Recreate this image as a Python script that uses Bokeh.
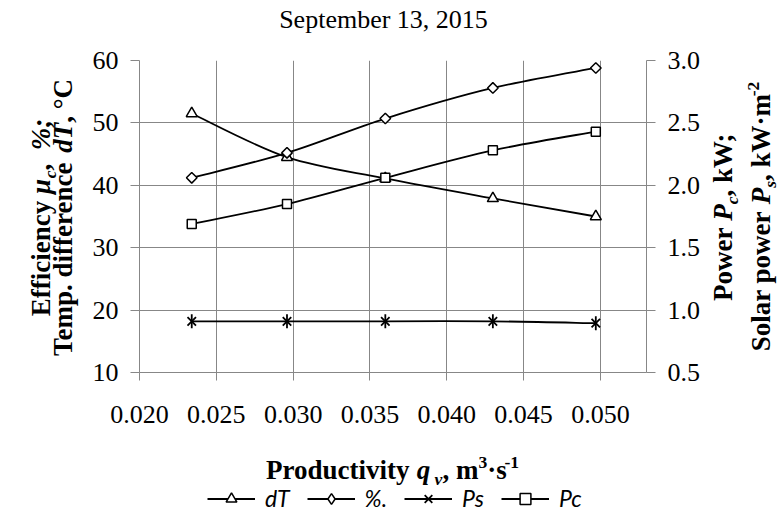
import numpy as np
from bokeh.plotting import figure
from bokeh.layouts import column, row
from bokeh.models import (Range1d, LinearAxis, FixedTicker, PrintfTickFormatter,
                          Legend, LegendItem, ColumnDataSource)
from bokeh.core.properties import value
from bokeh.embed import file_html
from bokeh.resources import INLINE

# ---------------- data ----------------
q_v = [0.0234, 0.0296, 0.0360, 0.0430, 0.0497]      # productivity, m3/s
d_T = [51.5, 44.5, 41.1, 37.9, 35.0]                # temp. difference, degC (left)
eff = [41.2, 45.2, 50.7, 55.6, 58.8]                # efficiency, % (left)
p_s = [0.91, 0.91, 0.91, 0.91, 0.895]               # solar power, kW/m2 (right)
p_c = [1.69, 1.85, 2.06, 2.28, 2.43]                # power, kW (right)

x_ticks = [0.020, 0.025, 0.030, 0.035, 0.040, 0.045, 0.050]
left_ticks = [10, 20, 30, 40, 50, 60]
right_ticks = [0.5, 1.0, 1.5, 2.0, 2.5, 3.0]
title_text = "September 13, 2015"
series_labels = ["dT", "%.", "Ps", "Pc"]

# ---------------- page layout (pixels) ----------------
W, H = 784, 513
FL, FR, FT, FB = 139, 646, 60, 372          # plot frame
TOP_H, LEFT_W, RIGHT_X, BOT_Y = 45, 88, 706, 440
X0, X1 = 0.020, 0.053
Y0, Y1 = 10, 60
R0, R1 = 0.5, 3.0
GRAY = "#878787"
SERIF = "Liberation Serif"
LW = 1.8
MW = 1.5
BASE_FIX = 0.36       # em offset that puts Bokeh's text baseline where intended

p = figure(width=RIGHT_X - LEFT_W, height=BOT_Y - TOP_H,
           x_range=Range1d(X0, X1), y_range=Range1d(Y0, Y1),
           output_backend="svg", toolbar_location=None, title=None,
           min_border_left=FL - LEFT_W, min_border_right=RIGHT_X - FR,
           min_border_top=FT - TOP_H, min_border_bottom=BOT_Y - FB,
           frame_align=False)
p.extra_y_ranges = {"right": Range1d(R0, R1)}
p.outline_line_color = None
p.background_fill_color = "white"
p.border_fill_color = "white"


def style_axis(ax, tick_out, standoff):
    ax.axis_line_color = GRAY
    ax.major_tick_line_color = GRAY
    ax.major_tick_out = tick_out
    ax.major_tick_in = 0
    ax.minor_tick_line_color = None
    ax.major_label_text_font = SERIF
    ax.major_label_text_font_size = "26px"
    ax.major_label_text_color = "black"
    ax.major_label_standoff = standoff
    ax.axis_label = None


xa = p.xaxis[0]
xa.ticker = FixedTicker(ticks=x_ticks)
xa.formatter = PrintfTickFormatter(format="%.3f")
style_axis(xa, 8, 25)

ya = p.yaxis[0]
ya.ticker = FixedTicker(ticks=left_ticks)
ya.formatter = PrintfTickFormatter(format="%d")
style_axis(ya, 9, 12)

ra = LinearAxis(y_range_name="right", ticker=FixedTicker(ticks=right_ticks),
                formatter=PrintfTickFormatter(format="%.1f"))
style_axis(ra, 9, 12)
p.add_layout(ra, "right")

p.xgrid.ticker = FixedTicker(ticks=x_ticks)
p.ygrid.ticker = FixedTicker(ticks=left_ticks)
for g in (p.xgrid[0], p.ygrid[0]):
    g.grid_line_color = GRAY
    g.grid_line_width = 1


# ---------------- smoothed lines (Bezier through the data points) ----------------
def smooth_source(xs, ys):
    xs = np.asarray(xs, float)
    ys = np.asarray(ys, float)
    n = len(xs)
    px = np.concatenate([[xs[0]], xs, [xs[-1]]])
    py = np.concatenate([[ys[0]], ys, [ys[-1]]])
    return ColumnDataSource(dict(
        x0=xs[:-1], y0=ys[:-1], x1=xs[1:], y1=ys[1:],
        cx0=px[1:n] + (px[2:n + 1] - px[0:n - 1]) / 6,
        cy0=py[1:n] + (py[2:n + 1] - py[0:n - 1]) / 6,
        cx1=px[2:n + 1] - (px[3:n + 2] - px[1:n]) / 6,
        cy1=py[2:n + 1] - (py[3:n + 2] - py[1:n]) / 6,
    ))


MARK = {
    "dT": [dict(marker="triangle", size=11, fill_color="white")],
    "%.": [dict(marker="square", angle=np.pi / 4, size=7.5, fill_color="white")],
    "Ps": [dict(marker="x", size=12), dict(marker="dash", angle=np.pi / 2, size=14)],
    "Pc": [dict(marker="square", size=9, fill_color="white")],
}
# legend swatches (the legend draws markers without rotation)
LEG_MARK = {
    "dT": [dict(marker="triangle", fill_color="white")],
    "%.": [dict(marker="diamond", fill_color="white")],
    "Ps": [dict(marker="x"), dict(marker="dash", angle=np.pi / 2)],
    "Pc": [dict(marker="square", fill_color="white")],
}

SERIES = [(d_T, "dT", None), (eff, "%.", None), (p_s, "Ps", "right"), (p_c, "Pc", "right")]

for ys, lab, rng in SERIES:
    kw = {} if rng is None else {"y_range_name": rng}
    p.bezier(x0="x0", y0="y0", x1="x1", y1="y1", cx0="cx0", cy0="cy0",
             cx1="cx1", cy1="cy1", source=smooth_source(q_v, ys),
             line_color="black", line_width=LW, **kw)
    for spec in MARK[lab]:
        p.scatter(q_v, ys, line_color="black",
                  line_width=1.8 if lab == "Ps" else MW, **spec, **kw)


# ---------------- text panels around the plot ----------------
def text_fig(x0, y0, w, h):
    f = figure(width=w, height=h, x_range=Range1d(0, w), y_range=Range1d(0, h),
               output_backend="svg", toolbar_location=None, title=None,
               x_axis_location=None, y_axis_location=None, min_border=0,
               frame_align=False)
    f.grid.visible = False
    f.outline_line_color = None
    f.background_fill_color = "white"
    f.border_fill_color = "white"
    return dict(fig=f, x0=x0, y0=y0, h=h,
                src=dict(x=[], y=[], text=[], angle=[], style=[], size=[], align=[]))


panels = {
    "top": text_fig(0, 0, W, TOP_H),
    "left": text_fig(0, TOP_H, LEFT_W, BOT_Y - TOP_H),
    "right": text_fig(RIGHT_X, TOP_H, W - RIGHT_X, BOT_Y - TOP_H),
    "bottom": text_fig(0, BOT_Y, W, H - BOT_Y),
}


def put(panel, sx, sy, text, style, size, angle=0.0, align="left"):
    # (sx, sy): wanted page position of the alphabetic baseline start
    if angle:
        sx -= BASE_FIX * size
    else:
        sy -= BASE_FIX * size
    pn = panels[panel]
    s = pn["src"]
    s["x"].append(sx - pn["x0"])
    s["y"].append(pn["h"] - (sy - pn["y0"]))
    s["text"].append(text)
    s["angle"].append(angle)
    s["style"].append(style)
    s["size"].append(f"{size:.1f}px")
    s["align"].append(align)


TB = {' ': 250, '%': 1000, ',': 250, '-': 333, '.': 250, ';': 333, '·': 250, '°': 400,
      'C': 722, 'E': 667, 'P': 611, 'S': 556, 'T': 667, 'W': 1000,
      'a': 500, 'c': 444, 'd': 556, 'e': 444, 'f': 333, 'i': 278, 'k': 556,
      'l': 278, 'm': 833, 'n': 556, 'o': 500, 'p': 556, 'q': 556, 'r': 444,
      's': 389, 't': 333, 'u': 556, 'v': 500, 'w': 722, 'y': 500}
TBI = {' ': 250, '%': 833, ';': 333, ',': 250, 'P': 611, 'T': 611, 'c': 444,
       'd': 500, 'q': 500, 's': 389, 'v': 444, 'μ': 576}
for _d in "0123456789":
    TB[_d] = 500
    TBI[_d] = 500


def tw(text, style):
    table = TBI if "italic" in style else TB
    return sum(table.get(ch, 500) for ch in text) / 1000.0


def rich(panel, pieces, center, base, size, vertical):
    fs_of = {"n": size, "sub": size * 0.65, "sup": size * 0.65}
    shift_of = {"n": 0.0, "sub": 0.2 * size, "sup": -0.4 * size}
    total = sum(tw(t, st) * fs_of[k] for t, st, k in pieces)
    pos = center + total / 2 if vertical else center - total / 2
    for t, st, k in pieces:
        fs = fs_of[k]
        body = t.strip(" ")
        lead = (len(t) - len(t.lstrip(" "))) * 0.25 * fs
        w = tw(t, st) * fs
        if body:
            if vertical:
                put(panel, base + shift_of[k], pos - lead, body, st, fs, np.pi / 2)
            else:
                put(panel, pos + lead, base + shift_of[k], body, st, fs)
        pos = pos - w if vertical else pos + w


put("top", 383, 28, title_text, "normal", 26, 0.0, "center")

B, BI = "bold", "bold italic"
TS = 27
rich("left", [("Efficiency ", B, "n"), ("μ", BI, "n"), ("c", BI, "sub"), (",  ", B, "n"),
              ("%;", BI, "n")], 217, 50, TS, True)
rich("left", [("Temp. difference ", B, "n"), ("dT", BI, "n"), (", °C", B, "n")],
     217, 72, TS, True)
rich("right", [("Power ", B, "n"), ("P", BI, "n"), ("c", BI, "sub"), (", kW;", B, "n")],
     216, 732, TS, True)
rich("right", [("Solar power ", B, "n"), ("P", BI, "n"), ("s", BI, "sub"),
               (", kW·m", B, "n"), ("-2", B, "sup")], 216, 770, TS, True)
rich("bottom", [("Productivity ", B, "n"), ("q", BI, "n"), (" v", BI, "sub"),
                (", m", B, "n"), ("3", B, "sup"), ("·s", B, "n"), ("-1", B, "sup")],
     392, 479, TS, False)

for pn in panels.values():
    pn["fig"].text(x="x", y="y", text="text", angle="angle",
                   source=ColumnDataSource(pn["src"]), text_font=value(SERIF),
                   text_font_style="style", text_font_size="size",
                   text_align="align", text_baseline="alphabetic", text_color="black")

# ---------------- legend in the bottom panel (swatches from hidden copies) ----------------
bf = panels["bottom"]["fig"]
items = []
for ys, lab, rng in SERIES:
    rs = [bf.line(x=q_v, y=ys, line_color="black", line_width=LW, visible=False)]
    for spec in LEG_MARK[lab]:
        rs.append(bf.scatter(x=q_v, y=ys, line_color="black",
                             line_width=1.8 if lab == "Ps" else MW,
                             visible=False, **spec))
    items.append(LegendItem(label=lab, renderers=rs))
legend = Legend(items=items, location=(207, 1), orientation="horizontal",
                glyph_width=48, glyph_height=27, label_standoff=10, spacing=17,
                padding=0, margin=0, border_line_color=None, background_fill_alpha=0,
                inactive_fill_alpha=0,
                label_text_font="Lato", label_text_font_style="italic",
                label_text_font_size="23px", label_text_color="black")
bf.add_layout(legend, "center")

page = column(panels["top"]["fig"],
              row(panels["left"]["fig"], p, panels["right"]["fig"], spacing=0),
              panels["bottom"]["fig"], spacing=0)
open("out.html", "w").write(file_html(page, INLINE))
